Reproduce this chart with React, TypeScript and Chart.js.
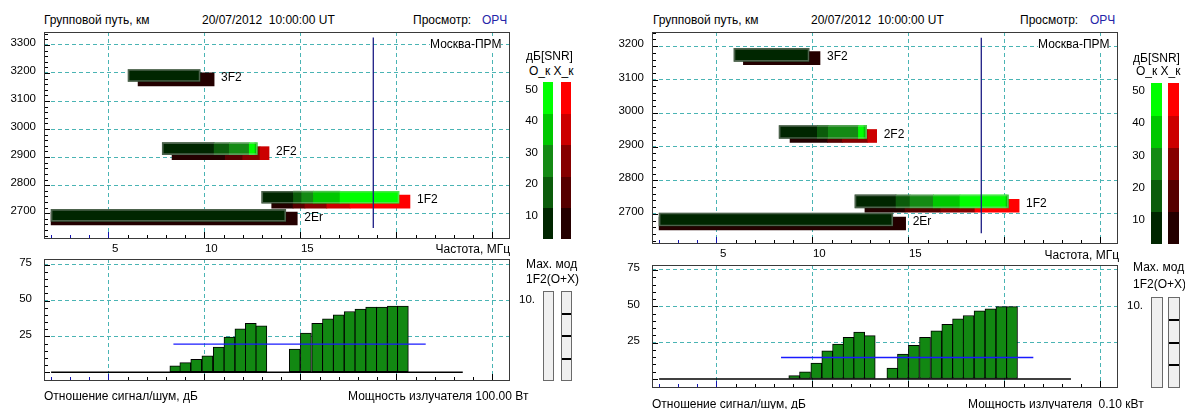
import React, { useEffect, useRef } from "react";
import { Chart, registerables } from "chart.js";
Chart.register(...registerables);

// ================= DATA =================
const modeNames = ["3F2", "2F2", "1F2", "2Er"];
const snrScale = [10, 20, 30, 40, 50];
const freqTickLabels = [5, 10, 15];

// ---- Left panel (100.00 Вт) : O / X traces ----
const leftOFreqEdges = [
  [6.03, 9.78],
  [7.81, 10.51, 11.3, 12.34, 12.64, 12.76],
  [12.99, 14.64, 15.07, 15.68, 17.07, 20.14],
  [2.02, 14.24],
];
const leftOSnrClass = [[1], [1, 2, 3, 5, 4], [1, 2, 3, 4, 5], [1]];
const leftOPathKm = [3191, 2930, 2757, 2692];
const leftXFreqEdges = [
  [6.55, 10.51],
  [8.32, 11.09, 12.0, 12.9, 13.37],
  [13.51, 14.62, 15.24, 16.38, 17.59, 20.71],
  [2.02, 14.84],
];
const leftXSnrClass = [[1], [1, 2, 3, 4], [1, 2, 3, 4, 5], [1]];
const leftXPathKm = [3177, 2914, 2741, 2681];
const leftMarkerFreq = 18.8;
const leftMarkerPathKm = [3326, 2647];

// ---- Left panel : SNR histogram ----
const leftSnrFreq = [8.49, 9.01, 9.58, 10.16, 10.75, 11.31, 11.88, 12.42, 12.97, 14.71, 15.29, 15.88, 16.44, 17.0, 17.57, 18.13, 18.69, 19.25, 19.82, 20.34];
const leftSnrDb = [4.4, 6.7, 9.1, 11.4, 17.5, 24.5, 30.3, 34.2, 32.4, 16.1, 27.3, 34.2, 37.3, 40.0, 42.4, 44.0, 45.4, 45.4, 46.1, 46.1];
const leftThresholdDb = 19.6;
const leftThresholdFreq = [8.39, 21.53];
const leftBaselineFreq = [2.02, 23.46];

// ---- Right panel (0.10 кВт) : O / X traces ----
const rightOFreqEdges = [
  [5.92, 9.83],
  [8.27, 10.26, 10.83, 12.4, 12.69, 12.83],
  [12.22, 14.36, 15.09, 16.3, 17.69, 20.09, 20.21],
  [2.02, 14.19],
];
const rightOSnrClass = [[1], [1, 2, 3, 5, 4], [1, 2, 3, 4, 5, 4], [1]];
const rightOPathKm = [3174, 2944, 2737, 2683];
const rightXFreqEdges = [
  [6.41, 10.4],
  [8.84, 10.8, 11.56, 12.89, 13.35],
  [12.74, 14.83, 16.69, 18.47, 20.77],
  [2.02, 14.86],
];
const rightXSnrClass = [[1], [1, 2, 3, 4], [1, 2, 3, 5], [1]];
const rightXPathKm = [3164, 2932, 2724, 2671];
const rightMarkerFreq = 18.8;
const rightMarkerPathKm = [3225, 2642];

// ---- Right panel : SNR histogram ----
const rightSnrFreq = [9.06, 9.62, 10.21, 10.78, 11.34, 11.89, 12.44, 12.99, 14.17, 14.72, 15.29, 15.87, 16.46, 17.03, 17.59, 18.14, 18.71, 19.28, 19.85, 20.4];
const rightSnrDb = [2.3, 5.0, 11.0, 19.4, 24.0, 28.6, 32.3, 29.9, 7.5, 17.2, 23.1, 28.6, 33.2, 37.7, 41.4, 43.7, 46.9, 48.3, 49.8, 49.8];
const rightThresholdDb = 14.8;
const rightThresholdFreq = [8.37, 21.51];
const rightBaselineFreq = [2.02, 23.47];

// axis ranges
const freqRange = [1.65, 25.92];
const leftPathRange = [2608, 3346];
const rightPathRange = [2610, 3242];
const leftDbRange = [-6.1, 79];
const rightDbRange = [-6.18, 78.43];

// ================= STYLE =================
const FONT = "'Liberation Sans', Arial, Helvetica, sans-serif";
const GRID = "#4ab4b4";
const oColors = ["#002600", "#0b5c0b", "#148a14", "#00c800", "#00ff00"];
const xColors = ["#240000", "#560000", "#860000", "#cc0000", "#ff0000"];
const histColor = "#128812";

type SegSet = { edges: number[][]; cls: number[][]; path: number[] };

function buildSegments(s: SegSet, colors: string[]) {
  const data: any[] = [];
  const bg: string[] = [];
  s.edges.forEach((e, m) => {
    for (let i = 0; i < e.length - 1; i++) {
      data.push({ y: s.path[m], x: [e[i], e[i + 1]] });
      bg.push(colors[s.cls[m][i] - 1]);
    }
  });
  return { data, bg };
}

function decor(chart: any, yStep: number, yMajor: number, yStart: number) {
  const { ctx, chartArea: a } = chart;
  const xs = chart.scales.x;
  const ys = chart.scales.y;
  ctx.save();
  ctx.lineWidth = 1;
  for (let v = Math.ceil(xs.min); v <= xs.max + 1e-9; v += 1) {
    const px = Math.round(xs.getPixelForValue(v)) + 0.5;
    const major = v % 5 === 0;
    ctx.strokeStyle = v <= 5 ? "#1414b0" : "#000";
    ctx.beginPath();
    ctx.moveTo(px, a.bottom);
    ctx.lineTo(px, a.bottom - (major ? 7 : 4));
    ctx.stroke();
  }
  ctx.strokeStyle = "#000";
  for (let v = yStart; v <= ys.max; v += yStep) {
    const py = Math.round(ys.getPixelForValue(v)) + 0.5;
    const major = Math.abs(v % yMajor) < 1e-6;
    ctx.beginPath();
    ctx.moveTo(a.left, py);
    ctx.lineTo(a.left + (major ? 6 : 4), py);
    ctx.stroke();
  }
  ctx.strokeStyle = "#3a3a3a";
  ctx.strokeRect(
    Math.round(a.left) + 0.5,
    Math.round(a.top) + 0.5,
    Math.round(a.right - a.left) - 1,
    Math.round(a.bottom - a.top) - 1
  );
  ctx.restore();
}

const tickFont = { family: FONT, size: 11.5 };

function fixX(h: number) {
  return (s: any) => {
    s.height = h;
    s.paddingLeft = 0;
    s.paddingRight = 0;
    s.paddingTop = 0;
    s.paddingBottom = 0;
  };
}
function fixY(w: number) {
  return (s: any) => {
    s.width = w;
    s.paddingLeft = 0;
    s.paddingRight = 0;
    s.paddingTop = 0;
    s.paddingBottom = 0;
  };
}

interface TopProps {
  left: number; top: number; width: number; height: number;
  padTop: number; padRight: number; yAxisW: number; xAxisH: number;
  yRange: number[]; xLabelPad: number; barO: number; barX: number;
  o: SegSet; x: SegSet; markerFreq: number; markerPath: number[];
}

function TopChart(p: TopProps) {
  const ref = useRef<HTMLCanvasElement>(null);
  useEffect(() => {
    const o = buildSegments(p.o, oColors);
    const xs = buildSegments(p.x, xColors);
    const outline = p.o.edges.map((e, m) => ({ y: p.o.path[m], x: [e[0], e[e.length - 1]] }));
    const labelsPlugin = {
      id: "topExtras",
      afterDatasetsDraw(chart: any) {
        const ctx = chart.ctx;
        const sx = chart.scales.x;
        const sy = chart.scales.y;
        ctx.save();
        ctx.font = `12px ${FONT}`;
        ctx.fillStyle = "#000";
        ctx.textBaseline = "middle";
        ctx.textAlign = "left";
        modeNames.forEach((name, m) => {
          const oe = p.o.edges[m];
          const xe = p.x.edges[m];
          const endF = Math.max(oe[oe.length - 1], xe[xe.length - 1]);
          ctx.fillText(name, sx.getPixelForValue(endF) + 7, sy.getPixelForValue((p.o.path[m] + p.x.path[m]) / 2) + 0.5);
        });
        ctx.restore();
        decor(chart, 20, 100, Math.ceil(p.yRange[0] / 20) * 20);
      },
    };
    const chart = new Chart(ref.current as HTMLCanvasElement, {
      type: "bar",
      data: {
        datasets: [
          {
            type: "line",
            data: [
              { x: p.markerFreq, y: p.markerPath[0] },
              { x: p.markerFreq, y: p.markerPath[1] },
            ],
            borderColor: "#1c1c84",
            borderWidth: 1.3,
            pointRadius: 0,
            order: 0,
          } as any,
          {
            data: outline,
            backgroundColor: "rgba(0,0,0,0)",
            borderColor: "rgba(190,190,190,0.4)",
            borderWidth: 1,
            borderSkipped: false,
            barThickness: p.barO,
            stack: "m",
            order: 1,
          } as any,
          {
            data: o.data,
            backgroundColor: o.bg,
            barThickness: p.barO,
            stack: "m",
            order: 2,
            borderWidth: 0,
          } as any,
          {
            data: xs.data,
            backgroundColor: xs.bg,
            barThickness: p.barX,
            stack: "m",
            order: 3,
            borderWidth: 0,
          } as any,
        ],
      },
      options: {
        indexAxis: "y",
        animation: false,
        responsive: false,
        maintainAspectRatio: false,
        layout: { padding: { top: p.padTop, right: p.padRight, left: 0, bottom: 0 } },
        plugins: { legend: { display: false }, tooltip: { enabled: false } },
        scales: {
          x: {
            type: "linear",
            min: freqRange[0],
            max: freqRange[1],
            offset: false,
            stacked: false,
            grid: { color: GRID, drawTicks: false, offset: false },
            border: { display: false, dash: [4, 3] },
            ticks: {
              stepSize: 5,
              includeBounds: false,
              labelOffset: 7,
              padding: p.xLabelPad,
              font: tickFont,
              color: "#000",
              maxRotation: 0,
              autoSkip: false,
              callback: (v: any) => (freqTickLabels.includes(v) ? String(v) : ""),
            },
            afterFit: fixX(p.xAxisH),
          } as any,
          y: {
            type: "linear",
            min: p.yRange[0],
            max: p.yRange[1],
            offset: false,
            grid: { color: GRID, drawTicks: false, offset: false },
            border: { display: false, dash: [4, 3] },
            ticks: {
              stepSize: 100,
              includeBounds: false,
              labelOffset: -2,
              padding: 8,
              font: tickFont,
              color: "#000",
              callback: (v: any) => String(v),
            },
            afterFit: fixY(p.yAxisW),
          } as any,
        },
      },
      plugins: [labelsPlugin],
    });
    return () => chart.destroy();
  }, []);
  return (
    <canvas
      ref={ref}
      width={p.width}
      height={p.height}
      style={{ position: "absolute", left: p.left, top: p.top, width: p.width, height: p.height }}
    />
  );
}

interface BottomProps {
  left: number; top: number; width: number; height: number;
  padTop: number; padRight: number; yAxisW: number; xAxisH: number;
  yRange: number[]; freq: number[]; db: number[];
  threshold: number; thresholdFreq: number[]; baselineFreq: number[];
}

function BottomChart(p: BottomProps) {
  const ref = useRef<HTMLCanvasElement>(null);
  useEffect(() => {
    const plug = {
      id: "bottomExtras",
      afterDatasetsDraw(chart: any) {
        decor(chart, 5, 25, 0);
      },
    };
    const chart = new Chart(ref.current as HTMLCanvasElement, {
      type: "bar",
      data: {
        datasets: [
          {
            type: "line",
            data: [
              { x: p.thresholdFreq[0], y: p.threshold },
              { x: p.thresholdFreq[1], y: p.threshold },
            ],
            borderColor: "#1a1aff",
            borderWidth: 1.3,
            pointRadius: 0,
            order: 0,
          } as any,
          {
            type: "line",
            data: [
              { x: p.baselineFreq[0], y: 0 },
              { x: p.baselineFreq[1], y: 0 },
            ],
            borderColor: "#000",
            borderWidth: 1.4,
            pointRadius: 0,
            order: 1,
          } as any,
          {
            data: p.freq.map((f, i) => ({ x: f, y: p.db[i] })),
            backgroundColor: histColor,
            borderColor: "#000",
            borderWidth: 1,
            borderSkipped: false,
            barThickness: 11,
            order: 2,
          } as any,
        ],
      },
      options: {
        animation: false,
        responsive: false,
        maintainAspectRatio: false,
        layout: { padding: { top: p.padTop, right: p.padRight, left: 0, bottom: 0 } },
        plugins: { legend: { display: false }, tooltip: { enabled: false } },
        scales: {
          x: {
            type: "linear",
            min: freqRange[0],
            max: freqRange[1],
            offset: false,
            grid: { color: GRID, drawTicks: false, offset: false },
            border: { display: false, dash: [4, 3] },
            ticks: { stepSize: 5, includeBounds: false, display: false },
            afterFit: fixX(p.xAxisH),
          } as any,
          y: {
            type: "linear",
            min: p.yRange[0],
            max: p.yRange[1],
            beginAtZero: false,
            grid: {
              color: (c: any) => (c.tick && c.tick.value === 0 ? "rgba(0,0,0,0)" : GRID),
              drawTicks: false,
            },
            border: { display: false, dash: [4, 3] },
            ticks: {
              stepSize: 25,
              includeBounds: false,
              labelOffset: -2,
              padding: 12,
              font: tickFont,
              color: "#000",
              callback: (v: any) => (v === 0 ? "" : String(v)),
            },
            afterFit: fixY(p.yAxisW),
          } as any,
        },
      },
      plugins: [plug],
    });
    return () => chart.destroy();
  }, []);
  return (
    <canvas
      ref={ref}
      width={p.width}
      height={p.height}
      style={{ position: "absolute", left: p.left, top: p.top, width: p.width, height: p.height }}
    />
  );
}

function Txt({ x, y, children, align = "left", color = "#000", bg, size = 12 }: any) {
  return (
    <div
      style={{
        position: "absolute",
        left: x,
        top: y - 7,
        lineHeight: "14px",
        fontSize: size,
        color,
        whiteSpace: "pre",
        transform: align === "right" ? "translateX(-100%)" : undefined,
        background: bg,
      }}
    >
      {children}
    </div>
  );
}

function ColorBar({ x, top, bottom, w, colors }: any) {
  const seg = (bottom - top) / snrScale.length;
  return (
    <>
      {snrScale.map((lv, i) => (
        <div
          key={lv}
          style={{
            position: "absolute",
            left: x,
            width: w,
            top: bottom - (i + 1) * seg,
            height: seg + 0.5,
            background: colors[i],
          }}
        />
      ))}
    </>
  );
}

function ModBox({ x, top, h, w, dividers }: any) {
  return (
    <div
      style={{
        position: "absolute",
        left: x,
        top,
        width: w - 2,
        height: h - 2,
        background: "#f0f0f0",
        border: "1px solid #6a6a6a",
      }}
    >
      {dividers &&
        [1, 2, 3].map((k) => (
          <div
            key={k}
            style={{ position: "absolute", left: 0, right: 0, top: (h * k) / 4 - 2, height: 2, background: "#000" }}
          />
        ))}
    </div>
  );
}

interface PanelCfg {
  dx: number;
  topH: number; bottomTop: number; bottomH: number;
  yRange: number[]; dbRange: number[]; xLabelPad: number; barO: number; barX: number;
  o: SegSet; x: SegSet; markerFreq: number; markerPath: number[];
  freq: number[]; db: number[]; threshold: number; thresholdFreq: number[]; baselineFreq: number[];
  texts: {
    moscowY: number; dbY: number; okY: number; cbTop: number; cbBottom: number; cbW: number;
    cbO: number; cbX: number; cbLabelX: number; freqLabelX: number; freqLabelY: number;
    maxY: number; modY: number; tenY: number; tenX: number; boxTop: number; boxH: number;
    footY: number; powerX: number; powerText: string; hdr: number[];
  };
}

function Panel({ c }: { c: PanelCfg }) {
  const t = c.texts;
  const cbSeg = (t.cbBottom - t.cbTop) / 5;
  return (
    <>
      <Txt x={t.hdr[0]} y={20}>Групповой путь, км</Txt>
      <Txt x={t.hdr[1]} y={20}>20/07/2012  10:00:00 UT</Txt>
      <Txt x={t.hdr[2]} y={20}>Просмотр:</Txt>
      <Txt x={t.hdr[3]} y={20} color="#2424a8">ОРЧ</Txt>

      <TopChart
        left={c.dx} top={26} width={520} height={c.topH}
        padTop={6} padRight={10} yAxisW={44} xAxisH={19}
        yRange={c.yRange} xLabelPad={c.xLabelPad} barO={c.barO} barX={c.barX}
        o={c.o} x={c.x} markerFreq={c.markerFreq} markerPath={c.markerPath}
      />
      <Txt x={t.hdr[4]} y={t.moscowY} bg="#fff">Москва-ПРМ</Txt>
      <Txt x={t.freqLabelX} y={t.freqLabelY} align="right">Частота, МГц</Txt>

      <Txt x={t.cbLabelX - 11} y={t.dbY}>дБ[SNR]</Txt>
      <Txt x={t.cbLabelX - 8} y={t.okY}>О_к Х_к</Txt>
      <ColorBar x={t.cbO} top={t.cbTop} bottom={t.cbBottom} w={t.cbW} colors={oColors} />
      <ColorBar x={t.cbX} top={t.cbTop} bottom={t.cbBottom} w={t.cbW} colors={xColors} />
      {snrScale.map((lv, i) => (
        <Txt key={lv} x={t.cbLabelX + 1} y={t.cbBottom - (i + 1) * cbSeg + 7} align="right" size={11.5}>
          {String(lv)}
        </Txt>
      ))}

      <BottomChart
        left={c.dx} top={c.bottomTop} width={520} height={c.bottomH}
        padTop={9} padRight={10} yAxisW={44} xAxisH={4}
        yRange={c.dbRange} freq={c.freq} db={c.db}
        threshold={c.threshold} thresholdFreq={c.thresholdFreq} baselineFreq={c.baselineFreq}
      />
      <Txt x={t.cbLabelX - 11} y={t.maxY}>Мах. мод</Txt>
      <Txt x={t.cbLabelX - 11} y={t.modY}>1F2(О+Х)</Txt>
      <Txt x={t.tenX} y={t.tenY} align="right" size={11.5}>10.</Txt>
      <ModBox x={t.cbO} top={t.boxTop} h={t.boxH} w={t.cbW + 1} dividers={false} />
      <ModBox x={t.cbX} top={t.boxTop} h={t.boxH} w={t.cbW + 1} dividers={true} />

      <Txt x={c.dx + 44} y={t.footY}>Отношение сигнал/шум, дБ</Txt>
      <Txt x={t.powerX} y={t.footY}>{t.powerText}</Txt>
    </>
  );
}

const leftCfg: PanelCfg = {
  dx: 0,
  topH: 232,
  bottomTop: 250,
  bottomH: 135,
  yRange: leftPathRange,
  dbRange: leftDbRange,
  xLabelPad: 3,
  barO: 12,
  barX: 13,
  o: { edges: leftOFreqEdges, cls: leftOSnrClass, path: leftOPathKm },
  x: { edges: leftXFreqEdges, cls: leftXSnrClass, path: leftXPathKm },
  markerFreq: leftMarkerFreq,
  markerPath: leftMarkerPathKm,
  freq: leftSnrFreq,
  db: leftSnrDb,
  threshold: leftThresholdDb,
  thresholdFreq: leftThresholdFreq,
  baselineFreq: leftBaselineFreq,
  texts: {
    hdr: [44, 202, 413, 482, 430],
    moscowY: 43.5, dbY: 56, okY: 70.5, cbTop: 82, cbBottom: 239, cbW: 10,
    cbO: 543, cbX: 561, cbLabelX: 537, freqLabelX: 510, freqLabelY: 248.5,
    maxY: 263.5, modY: 278.5, tenY: 298.5, tenX: 535, boxTop: 291, boxH: 90,
    footY: 395.5, powerX: 348, powerText: "Мощность излучателя 100.00 Вт",
  },
};

const rightCfg: PanelCfg = {
  dx: 608,
  topH: 237,
  bottomTop: 256,
  bottomH: 136,
  yRange: rightPathRange,
  dbRange: rightDbRange,
  xLabelPad: 2.5,
  barO: 13,
  barX: 13,
  o: { edges: rightOFreqEdges, cls: rightOSnrClass, path: rightOPathKm },
  x: { edges: rightXFreqEdges, cls: rightXSnrClass, path: rightXPathKm },
  markerFreq: rightMarkerFreq,
  markerPath: rightMarkerPathKm,
  freq: rightSnrFreq,
  db: rightSnrDb,
  threshold: rightThresholdDb,
  thresholdFreq: rightThresholdFreq,
  baselineFreq: rightBaselineFreq,
  texts: {
    hdr: [653, 811, 1020, 1090, 1038],
    moscowY: 44, dbY: 57.5, okY: 71, cbTop: 83.3, cbBottom: 244, cbW: 11,
    cbO: 1151, cbX: 1168, cbLabelX: 1144, freqLabelX: 1119, freqLabelY: 255,
    maxY: 267, modY: 283.5, tenY: 304.5, tenX: 1143, boxTop: 297, boxH: 91,
    footY: 403.5, powerX: 968, powerText: "Мощность излучателя  0.10 кВт",
  },
};

export default function App() {
  return (
    <div
      style={{
        position: "fixed",
        left: 0,
        top: 0,
        width: 1185,
        height: 409,
        background: "#fff",
        fontFamily: FONT,
        overflow: "hidden",
      }}
    >
      <Panel c={leftCfg} />
      <Panel c={rightCfg} />
    </div>
  );
}
